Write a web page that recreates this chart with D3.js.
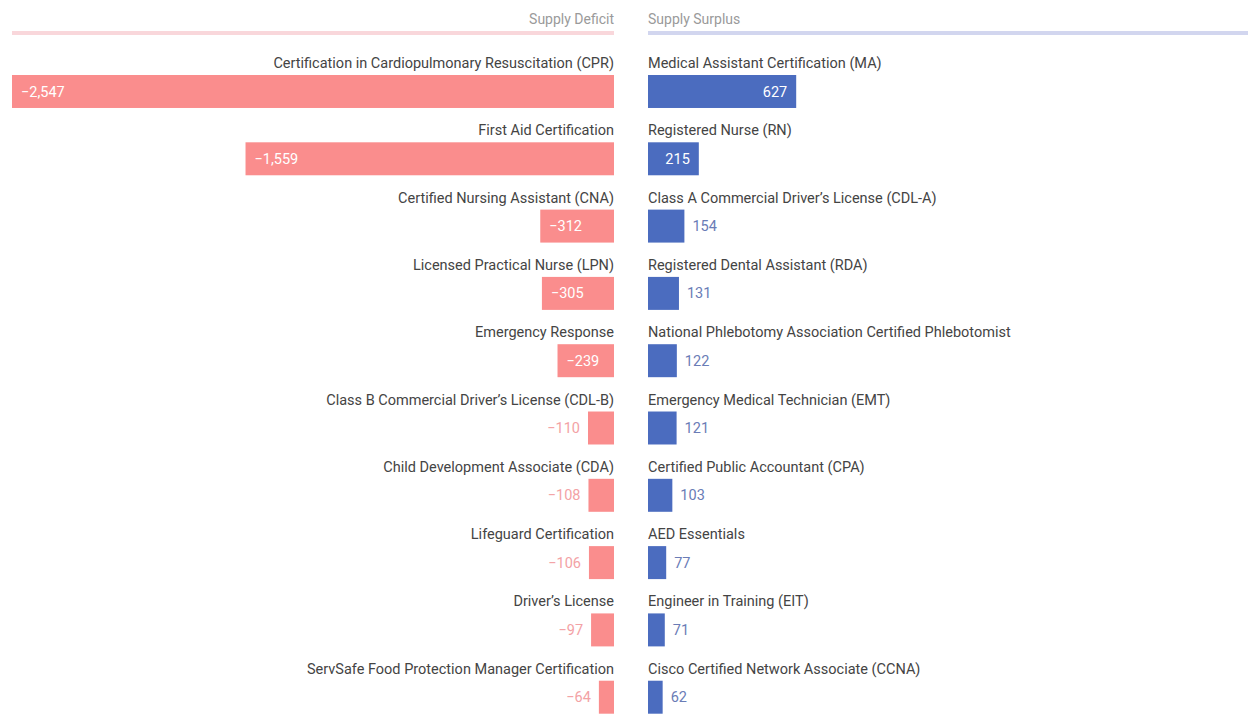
<!DOCTYPE html>
<html>
<head>
<meta charset="utf-8">
<script src="https://cdn.jsdelivr.net/npm/d3@7"></script>
<style>
  html, body { margin: 0; padding: 0; background: #fff; }
  svg { display: block; font-family: Roboto, "Noto Sans", sans-serif; }
</style>
</head>
<body>
<div id="chart"></div>
<script>
(() => {
  'use strict';

  // ── Data ──
  const deficitLabels = [
    'Certification in Cardiopulmonary Resuscitation (CPR)',
    'First Aid Certification',
    'Certified Nursing Assistant (CNA)',
    'Licensed Practical Nurse (LPN)',
    'Emergency Response',
    'Class B Commercial Driver\u2019s License (CDL-B)',
    'Child Development Associate (CDA)',
    'Lifeguard Certification',
    'Driver\u2019s License',
    'ServSafe Food Protection Manager Certification'
  ];
  const deficitValues = [-2547, -1559, -312, -305, -239, -110, -108, -106, -97, -64];

  const surplusLabels = [
    'Medical Assistant Certification (MA)',
    'Registered Nurse (RN)',
    'Class A Commercial Driver\u2019s License (CDL-A)',
    'Registered Dental Assistant (RDA)',
    'National Phlebotomy Association Certified Phlebotomist',
    'Emergency Medical Technician (EMT)',
    'Certified Public Accountant (CPA)',
    'AED Essentials',
    'Engineer in Training (EIT)',
    'Cisco Certified Network Associate (CCNA)'
  ];
  const surplusValues = [627, 215, 154, 131, 122, 121, 103, 77, 71, 62];

  const headers = ['Supply Deficit', 'Supply Surplus'];

  // ── Layout ──
  const W = 1248, H = 720;
  const leftEdge = 614;    // zero line of deficit side
  const rightEdge = 648;   // zero line of surplus side
  const maxWidth = 602;
  const insideMin = 45;    // bar width needed to put value inside

  const colors = {
    deficit: '#fa8d8d', surplus: '#4b6cbf',
    deficitText: '#f3a2a5', surplusText: '#6a7cb6',
    deficitRule: '#f9d7db', surplusRule: '#d2d6ef',
    label: '#444', header: '#9a9a9a'
  };

  const fmt = d3.format(',');
  const labelSize = '14.5px';

  const svg = d3.select('#chart').append('svg')
    .attr('width', W).attr('height', H);

  const x = d3.scaleLinear()
    .domain([0, d3.max(deficitValues.concat(surplusValues), v => Math.abs(v))])
    .range([0, maxWidth]);

  const y = d3.scaleBand()
    .domain(d3.range(deficitValues.length))
    .range([75, 713.7])
    .paddingInner(0.51)
    .paddingOuter(0);

  // ── Headers ──
  svg.append('text')
    .attr('x', leftEdge).attr('y', 24)
    .attr('text-anchor', 'end')
    .attr('fill', colors.header).attr('font-size', '14px')
    .text(headers[0]);
  svg.append('text')
    .attr('x', rightEdge).attr('y', 24)
    .attr('fill', colors.header).attr('font-size', '14px')
    .text(headers[1]);

  svg.append('rect')
    .attr('x', leftEdge - maxWidth).attr('y', 31)
    .attr('width', maxWidth).attr('height', 4)
    .attr('fill', colors.deficitRule);
  svg.append('rect')
    .attr('x', rightEdge).attr('y', 31)
    .attr('width', W - rightEdge).attr('height', 4)
    .attr('fill', colors.surplusRule);

  // ── Deficit side ──
  const left = svg.append('g').selectAll('g')
    .data(deficitValues.map((v, i) => ({ v, i, label: deficitLabels[i] })))
    .join('g');

  left.append('text')
    .attr('x', leftEdge)
    .attr('y', d => y(d.i) - 7)
    .attr('text-anchor', 'end')
    .attr('fill', colors.label).attr('font-size', labelSize)
    .text(d => d.label);

  left.append('rect')
    .attr('x', d => leftEdge - x(Math.abs(d.v)))
    .attr('y', d => y(d.i))
    .attr('width', d => x(Math.abs(d.v)))
    .attr('height', y.bandwidth())
    .attr('fill', colors.deficit);

  left.append('text')
    .attr('x', d => {
      const w = x(Math.abs(d.v));
      return w > insideMin ? leftEdge - w + 9 : leftEdge - w - 8;
    })
    .attr('y', d => y(d.i) + y.bandwidth() / 2)
    .attr('dy', '0.35em')
    .attr('text-anchor', d => x(Math.abs(d.v)) > insideMin ? 'start' : 'end')
    .attr('fill', d => x(Math.abs(d.v)) > insideMin ? '#fff' : colors.deficitText)
    .attr('font-size', labelSize)
    .text(d => fmt(d.v));

  // ── Surplus side ──
  const right = svg.append('g').selectAll('g')
    .data(surplusValues.map((v, i) => ({ v, i, label: surplusLabels[i] })))
    .join('g');

  right.append('text')
    .attr('x', rightEdge)
    .attr('y', d => y(d.i) - 7)
    .attr('fill', colors.label).attr('font-size', labelSize)
    .text(d => d.label);

  right.append('rect')
    .attr('x', rightEdge)
    .attr('y', d => y(d.i))
    .attr('width', d => x(d.v))
    .attr('height', y.bandwidth())
    .attr('fill', colors.surplus);

  right.append('text')
    .attr('x', d => {
      const w = x(d.v);
      return w > insideMin ? rightEdge + w - 9 : rightEdge + w + 8;
    })
    .attr('y', d => y(d.i) + y.bandwidth() / 2)
    .attr('dy', '0.35em')
    .attr('text-anchor', d => x(d.v) > insideMin ? 'end' : 'start')
    .attr('fill', d => x(d.v) > insideMin ? '#fff' : colors.surplusText)
    .attr('font-size', labelSize)
    .text(d => fmt(d.v));
})();
</script>
</body>
</html>
